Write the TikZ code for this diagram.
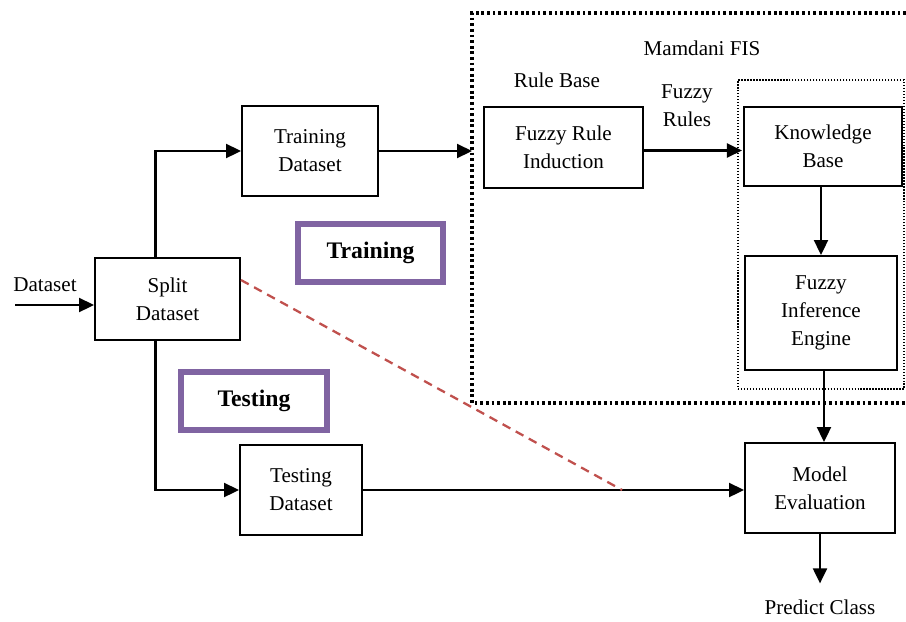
\documentclass[tikz,border=0pt]{standalone}
\usepackage{fontspec}
\setmainfont{Liberation Serif}
\usepackage{tikz}
\usetikzlibrary{positioning, arrows.meta, calc}
\tikzset{
	plaintext/.style={font=\fontsize{12}{16}\selectfont, align=center}
}
\tikzset{
	phasetext/.style={font=\fontsize{13.5}{15}\selectfont\bfseries}
}

\begin{document}
\begin{tikzpicture}[x=0.2mm, y=-0.2mm]
			\tikzset{
				blocknode/.style={
						shape=rectangle,
						draw=black,
						line width=1.1pt,
						fill=white,
						align=center,
						inner sep=0pt,
						plaintext
					},
				phasenode/.style={
						shape=rectangle,
						draw=phasepurple,
						line width=3.4pt,
						inner sep=0pt,
						phasetext
					},
				flow/.style={line width=1.2pt, -{Triangle[length=3mm, width=2.8mm]}}
			}
			\definecolor{phasepurple}{RGB}{128,100,162}
			\definecolor{cutred}{RGB}{192,80,77}

			\useasboundingbox (0,0) rectangle (906,621);

			% Mamdani FIS frame (open on the right)
			\draw[line width=2pt, dash pattern=on 1.6pt off 1.6pt] (906,13) -- (472,13) -- (472,403) -- (906,403);
			\coordinate (fisw) at (472,208);
			\node[plaintext] (fis) at (702,48) {Mamdani FIS};

			% knowledge base frame
			\node[draw, line width=0.7pt, dash pattern=on 0.7pt off 1pt, minimum width=33.2mm, minimum height=61.8mm, inner sep=0pt] (kbframe) at (821,234.5) {};

			\node[blocknode, minimum width=27.2mm, minimum height=18mm] (train) at (310,151) {Training\\Dataset};
			\node[blocknode, minimum width=29mm, minimum height=16.4mm] (split) at (167.5,299) {Split\\Dataset};
			\node[blocknode, minimum width=24.4mm, minimum height=18mm] (test) at (301,490) {Testing\\Dataset};
			\node[blocknode, minimum width=31.8mm, minimum height=16.2mm] (fri) at (563.5,147.5) {Fuzzy Rule\\Induction};
			\node[blocknode, minimum width=31.6mm, minimum height=15.8mm] (kb) at (823,146.5) {Knowledge\\Base};
			\node[blocknode, minimum width=30.4mm, minimum height=22.8mm] (fie) at (821,313) {Fuzzy\\Inference\\Engine};
			\node[blocknode, minimum width=30mm, minimum height=18mm] (me) at (820,488) {Model\\Evaluation};

			\node[phasenode, minimum width=29mm, minimum height=11.6mm] (trainphase) at (370.5,253) {Training};
			\node[phasenode, minimum width=29.2mm, minimum height=11.6mm] (testphase) at (254,401) {Testing};

			\node[plaintext] (rulebase) at (557,80) {Rule Base};
			\node[plaintext] (fuzzyrules) at (687,106) {Fuzzy\\Rules};
			\node[plaintext] (dslabel) at (45,285) {Dataset};
			\node[plaintext] (pc) at (820,607) {Predict Class};
			\coordinate (din) at (15,305);

			\draw[flow] (din) -- (din -| split.west);
			\draw[flow] ([xshift=-2.4mm]split.north) |- (train.west);
			\draw[flow] ([xshift=-2.4mm]split.south) |- (test.west);
			\draw[flow] (train.east) -- (train.east -| fisw);
			\draw[flow] (fri.east) ++(0,3) -- ++(98,0);
			\draw[flow] (kb.south -| fie.north) -- (fie.north);
			\draw[flow] ([xshift=0.6mm]fie.south) -- ([xshift=0.6mm]fie.south |- me.north);
			\draw[flow] (test.east) -- (test.east -| me.west);
			\draw[flow] (me.south) -- ([yshift=2mm]pc.north);

			\coordinate (cut) at ($(test.east)!0.68!(test.east -| me.west)$);
			\draw[cutred, line width=1.3pt, dash pattern=on 5pt off 3.5pt] ([yshift=3.8mm]split.east) -- (cut);
		\end{tikzpicture}
\end{document}
